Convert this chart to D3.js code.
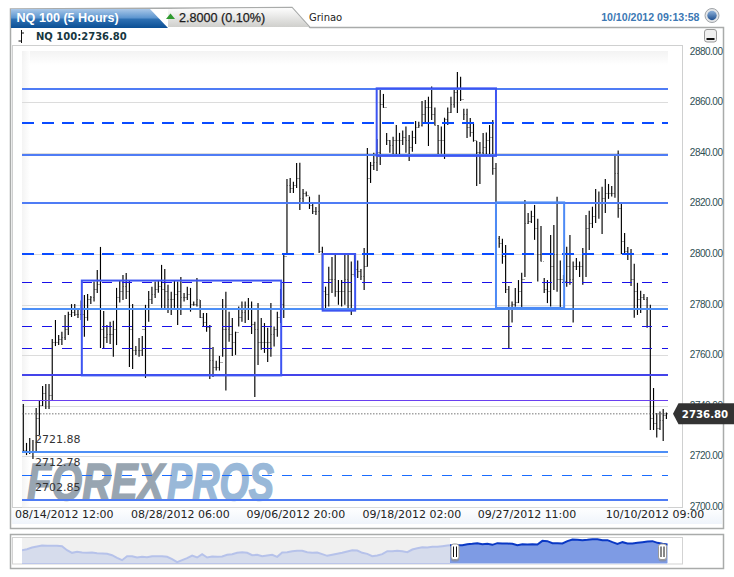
<!DOCTYPE html>
<html>
<head>
<meta charset="utf-8">
<title>NQ 100 (5 Hours)</title>
<script src="https://cdn.jsdelivr.net/npm/d3@7"></script>
<style>
  html, body { margin: 0; padding: 0; background: #fff; }
  svg { display: block; }
  text { font-family: "DejaVu Sans", sans-serif; }
  .arial { font-family: "Liberation Sans", Arial, sans-serif; }
</style>
</head>
<body>
<div id="chart"></div>
<script>
// 5 hour bars
const highs = [2740.7,2725.3,2727.2,2726.5,2739.1,2741.9,2747.8,2748.6,2748.6,2766.4,
  2773.9,2768.0,2769.3,2775.9,2777.2,2780.2,2780.2,2778.3,2781.6,2783.8,
  2784.2,2783.4,2789.1,2793.7,2802.8,2777.5,2771.9,2773.2,2773.6,2786.6,
  2789.7,2791.7,2792.5,2789.7,2780.2,2763.6,2766.8,2767.6,2779.9,2785.4,
  2787.1,2789.1,2789.7,2795.7,2794.1,2787.8,2785.1,2789.5,2789.1,2790.9,
  2784.6,2787.1,2786.6,2781.2,2790.5,2781.8,2776.7,2776.7,2771.9,2763.2,
  2757.8,2759.7,2782.2,2785.1,2777.2,2774.7,2769.3,2779.2,2781.2,2781.2,
  2782.6,2781.2,2773.2,2780.6,2774.7,2772.7,2770.8,2780.6,2771.3,2777.2,
  2786.2,2799.6,2829.7,2830.1,2828.6,2836.0,2836.1,2825.7,2824.7,2822.7,
  2820.3,2818.6,2823.4,2802.9,2787.1,2795.0,2798.8,2799.6,2789.7,2789.7,
  2800.0,2799.6,2797.0,2800.4,2797.4,2794.1,2802.4,2841.9,2836.4,2840.0,
  2845.5,2865.3,2863.3,2847.9,2845.1,2846.4,2851.0,2847.9,2848.8,2850.4,
  2847.1,2848.7,2852.6,2852.3,2860.5,2860.9,2862.2,2866.2,2857.9,2851.0,
  2850.4,2853.9,2857.9,2862.2,2864.9,2872.0,2870.1,2857.4,2857.4,2853.8,
  2851.8,2844.7,2844.3,2847.9,2848.0,2851.0,2853.0,2836.0,2807.1,2806.0,
  2803.6,2787.4,2781.2,2786.6,2789.7,2792.6,2821.4,2816.2,2817.1,2819.4,
  2813.9,2811.1,2790.5,2789.7,2807.5,2811.5,2822.6,2797.4,2791.7,2802.9,
  2807.5,2797.0,2798.4,2797.0,2802.4,2815.4,2817.1,2818.7,2825.7,2824.7,
  2826.6,2829.7,2827.7,2826.9,2838.9,2840.9,2820.2,2808.3,2802.8,2802.0,
  2796.1,2788.6,2785.5,2784.2,2783.0,2779.9,2747.0,2737.1,2737.7,2738.7,
  2737.3]
const lows = [2721.7,2720.5,2720.9,2718.9,2721.7,2728.4,2739.9,2738.7,2738.7,2742.3,
  2763.6,2764.0,2764.0,2766.0,2768.0,2775.1,2775.5,2774.7,2773.9,2767.3,
  2773.6,2780.2,2781.2,2784.6,2762.8,2762.4,2764.8,2764.4,2759.4,2764.0,
  2780.8,2781.8,2782.2,2755.3,2754.5,2760.1,2759.4,2759.7,2751.0,2773.2,
  2780.2,2782.6,2784.7,2778.7,2777.9,2776.7,2775.9,2778.7,2771.9,2775.9,
  2781.2,2781.8,2777.2,2779.5,2779.2,2774.7,2771.3,2769.3,2750.6,2751.4,
  2753.9,2753.9,2759.4,2746.0,2765.3,2759.7,2760.1,2771.3,2773.2,2772.7,
  2773.9,2768.4,2743.5,2756.1,2762.1,2760.9,2757.3,2759.4,2763.4,2767.3,
  2772.7,2774.7,2799.6,2824.1,2824.1,2826.1,2817.4,2820.2,2822.7,2817.8,
  2815.8,2815.4,2800.4,2777.9,2777.9,2779.2,2784.6,2783.1,2779.9,2779.2,
  2779.9,2777.9,2775.9,2791.0,2790.5,2789.7,2785.8,2795.0,2828.1,2833.2,
  2832.8,2835.2,2857.8,2843.1,2840.0,2839.2,2839.2,2839.2,2843.1,2840.0,
  2836.8,2840.4,2843.5,2849.9,2850.4,2852.2,2842.7,2853.0,2850.8,2839.2,
  2839.6,2837.6,2851.0,2855.8,2857.8,2855.8,2860.5,2853.0,2845.9,2846.4,
  2844.4,2826.9,2827.7,2838.9,2839.2,2839.2,2831.3,2805.6,2802.5,2796.1,
  2784.6,2762.8,2772.9,2779.1,2780.6,2778.8,2790.9,2811.9,2812.3,2805.6,
  2789.1,2797.0,2784.6,2780.6,2779.2,2785.8,2785.1,2778.7,2788.6,2787.1,
  2787.8,2772.9,2793.7,2790.9,2787.8,2790.9,2801.6,2810.3,2812.3,2813.9,
  2807.9,2816.2,2821.8,2822.7,2822.2,2814.3,2800.0,2800.4,2797.6,2787.4,
  2774.8,2775.9,2776.7,2781.8,2770.8,2730.4,2730.4,2727.4,2730.4,2726.1,
  2734.8]
const closes = [2722.5,2722,2722,2722,2735,2740,2745,2742,2744,2765,
  2765,2766,2767,2770,2776,2777,2776,2776,2776,2775,
  2782,2783,2786,2788,2770,2767,2768,2768,2770,2783,
  2785,2787,2785,2770,2762,2762,2762,2770,2778,2782,
  2784,2786,2787,2786,2785,2782,2782,2784,2785,2783,
  2783,2784,2780,2780,2782,2775,2773,2771,2758,2755,
  2755,2757,2770,2770,2768,2765,2769,2775,2777,2778,
  2778,2772,2770,2765,2765,2765,2765,2768,2770,2775,
  2780,2799,2827,2826,2827,2830,2822,2824,2823,2819,
  2817,2817,2801,2785,2784,2790,2790,2785,2785,2785,
  2790,2785,2792,2794,2793,2791,2795,2830,2835,2836,
  2840,2859,2858,2845,2843,2845,2845,2845,2846,2845,
  2842,2846,2850,2851,2855,2858,2858,2855,2851,2845,
  2845,2853,2856,2859,2864,2865,2861,2855,2850,2848,
  2845,2840,2840,2842,2845,2846,2834,2806,2804,2799,
  2786,2778,2780,2781,2785,2790,2812,2813,2815,2810,
  2800,2797,2786,2785,2795,2800,2790,2790,2789,2795,
  2790,2795,2795,2795,2800,2810,2812,2815,2820,2820,
  2822,2824,2824,2824,2832,2818,2805,2801,2800,2790,
  2785,2782,2783,2782,2778,2735,2733,2731,2734,2736,
  2736.8]

const lastPrice = 2736.8
const priceTicks = [2880, 2860, 2840, 2820, 2800, 2780, 2760, 2740, 2720, 2700]
const timeLabels = ['08/14/2012 12:00', '08/28/2012 06:00', '09/06/2012 20:00', '09/18/2012 02:00', '09/27/2012 11:00', '10/10/2012 09:00']
const timeBars = [12.6, 48.7, 84.6, 120.7, 156.5, 196.3]

// drawn levels: price, colour, dash style
const levelPrices = [2865.3, 2851.8, 2839.0, 2820.0, 2800.0, 2789.1, 2778.3, 2771.4, 2762.7, 2752.2, 2742.2, 2721.88, 2712.78, 2702.85]
const levelKinds = ['solid', 'heavy', 'solid', 'solid', 'heavy', 'thin', 'light', 'thin', 'thin', 'deep', 'violet', 'light', 'fine', 'solid']
const fibLabels = ['2721.88', '2712.78', '2702.85']

// boxes: bar from, bar to, price top, price bottom
const boxFrom = [18.2, 93.1, 109.9, 147]
const boxTo = [80.2, 103.2, 147, 168.2]
const boxTop = [2789.5, 2800, 2865.5, 2820.4]
const boxBottom = [2752, 2777.6, 2838.8, 2778.7]
const boxColors = ['#3d55f2', '#3d55f2', '#3d55f2', '#4d8af5']

// overview strip, relative level every few hours
const overview = [40,43,48,51,54,53,53,53,52,40,32,35,33,32,33,31,30,29,25,17,10,22,22,18,20,19,22,22,22,20,
  13,4,10,16,24,18,28,18,21,20,21,26,28,32,34,32,25,26,22,24,26,20,33,34,37,38,38,34,32,33,
  28,23,26,29,32,36,40,39,32,29,22,24,28,37,37,38,37,34,42,46,49,48,50,50,52,54,55,55,55,58,
  59,61,58,59,56,61,60,60,59,55,58,57,58,57,68,67,61,61,60,67,72,71,70,71,73,73,70,70,64,59,
  64,60,60,62,64,66,67,62,59,57]

const width = 734, height = 577
const svg = d3.select('#chart').append('svg').attr('width', width).attr('height', height)
const defs = svg.append('defs')

function gradient(id, stops, horizontal) {
  const g = defs.append('linearGradient').attr('id', id)
    .attr('x1', 0).attr('y1', 0).attr('x2', horizontal ? 1 : 0).attr('y2', horizontal ? 0 : 1)
  stops.forEach(s => g.append('stop').attr('offset', s[0]).attr('stop-color', s[1]))
}
gradient('tabBlue', [[0, '#a9c7e8'], [0.45, '#5f97d0'], [0.55, '#2d6fb2'], [1, '#0b4f94']])
gradient('tabGrey', [[0, '#fdfdfd'], [1, '#cfcfcc']])
gradient('topFade', [[0, '#f3f3f3'], [1, '#ffffff']])
gradient('leftFade', [[0, '#f1f1f1'], [1, '#ffffff']], true)
gradient('band', [[0, '#ffffff'], [1, '#eff4fb']])
gradient('globe', [[0, '#8fb2da'], [1, '#1e4f8f']])

// frames
const frame = svg.append('g')
const panelPath = 'M10.5,9 L292,7.5 L310,27.5 L723.5,27.5 L723.5,528.5 L10.5,528.5 Z'
frame.append('path').attr('d', panelPath).attr('fill', '#fff').attr('stroke', '#a9abaa').attr('stroke-width', 1.5)
frame.append('rect').attr('x', 12).attr('y', 507).attr('width', 710).attr('height', 17).attr('fill', 'url(#band)')
frame.append('rect').attr('x', 12.5).attr('y', 45.5).attr('width', 670).attr('height', 462)
  .attr('fill', '#fff').attr('stroke', '#cfd0d0')
frame.append('rect').attr('x', 13).attr('y', 46).attr('width', 9).attr('height', 461).attr('fill', '#fff')

// tabs
svg.append('path').attr('d', 'M168,9 L292,8 L309,27 L168,27 Z').attr('fill', 'url(#tabGrey)')
svg.append('path').attr('d', 'M11,9 L150,9 L168,28 L11,28 Z').attr('fill', 'url(#tabBlue)')
svg.append('text').attr('class', 'arial').attr('x', 16.5).attr('y', 22).attr('font-size', 12.6)
  .attr('font-weight', 'bold').attr('fill', '#fff').text('NQ 100 (5 Hours)')
svg.append('path').attr('d', 'M166,19 L170.5,13.5 L175,19 Z').attr('fill', '#2f9a2f')
svg.append('text').attr('class', 'arial').attr('x', 179).attr('y', 22).attr('font-size', 12.6)
  .attr('fill', '#1c1c1c').attr('stroke', '#1c1c1c').attr('stroke-width', 0.25).text('2.8000 (0.10%)')
svg.append('text').attr('x', 309).attr('y', 21).attr('font-size', 10).attr('fill', '#222').text('Grinao')
svg.append('text').attr('class', 'arial').attr('x', 699.5).attr('y', 21).attr('text-anchor', 'end')
  .attr('font-size', 10.6).attr('font-weight', 'bold').attr('fill', '#3c78b4').text('10/10/2012 09:13:58')
svg.append('circle').attr('cx', 712).attr('cy', 15.5).attr('r', 7).attr('fill', '#e4e6e8').attr('stroke', '#a0a4a8')
svg.append('circle').attr('cx', 712).attr('cy', 15.5).attr('r', 4.7).attr('fill', 'url(#globe)')

// legend row and minimise button
svg.append('path').attr('d', 'M21.5,30 V43 M21.5,33 H24 M21.5,41 H18.5').attr('stroke', '#111').attr('fill', 'none')
svg.append('text').attr('x', 36).attr('y', 40).attr('font-size', 10).attr('font-weight', 'bold')
  .attr('fill', '#17373f').text('NQ 100:2736.80')
svg.append('rect').attr('x', 704.5).attr('y', 29.5).attr('width', 12).attr('height', 12.5).attr('rx', 2.5)
  .attr('fill', '#f0f0f0').attr('stroke', '#9a9a9a')
svg.append('rect').attr('x', 706.5).attr('y', 38).attr('width', 8).attr('height', 2).attr('fill', '#111')

// scales
const x = d3.scaleLinear().domain([0, highs.length - 1]).range([23.3, 666.4])
const y = d3.scaleLinear().domain([2700, 2880]).range([506.9, 51.7])
const plotLeft = 22, plotRight = 668

// plot background
const plot = svg.append('g')
plot.append('rect').attr('x', plotLeft).attr('y', 51).attr('width', plotRight - plotLeft).attr('height', 14).attr('fill', 'url(#topFade)')
plot.append('rect').attr('x', plotLeft).attr('y', 51).attr('width', 8).attr('height', 456).attr('fill', 'url(#leftFade)').attr('opacity', 0.8)

// logo goes under everything else
const logo = plot.append('g').attr('class', 'arial').attr('font-style', 'italic').attr('font-weight', 'bold')
  .attr('font-size', 52).attr('stroke-width', 1.6)
logo.append('text').attr('class', 'arial').attr('x', 27).attr('y', 500).attr('textLength', 137).attr('lengthAdjust', 'spacingAndGlyphs')
  .attr('fill', '#98a5b1').attr('stroke', '#98a5b1').text('FOREX')
logo.append('text').attr('class', 'arial').attr('x', 167).attr('y', 500).attr('textLength', 107).attr('lengthAdjust', 'spacingAndGlyphs')
  .attr('fill', '#99b8d8').attr('stroke', '#99b8d8').text('PROS')

// grid lines
plot.append('g').selectAll('line').data(priceTicks.slice(1)).enter().append('line')
  .attr('x1', plotLeft).attr('x2', plotRight)
  .attr('y1', d => Math.round(y(d)) + 0.5).attr('y2', d => Math.round(y(d)) + 0.5)
  .attr('stroke', '#dcdcdc')

// ohlc bars
const bars = plot.append('g').selectAll('g').data(highs).enter().append('g')
bars.append('line')
  .attr('x1', (d, i) => x(i) - 1.5).attr('x2', (d, i) => x(i))
  .attr('y1', (d, i) => y(i ? closes[i - 1] : lows[i]) ).attr('y2', (d, i) => y(i ? closes[i - 1] : lows[i]))
  .attr('stroke', '#aaa').attr('shape-rendering', 'crispEdges')
bars.append('line')
  .attr('x1', (d, i) => x(i)).attr('x2', (d, i) => x(i) + 1.5)
  .attr('y1', (d, i) => y(closes[i])).attr('y2', (d, i) => y(closes[i]))
  .attr('stroke', '#aaa').attr('shape-rendering', 'crispEdges')
bars.append('line')
  .attr('x1', (d, i) => x(i)).attr('x2', (d, i) => x(i))
  .attr('y1', d => y(d)).attr('y2', (d, i) => y(lows[i]))
  .attr('stroke', '#000').attr('stroke-width', 1.15)

// level lines
const levelStyle = {
  solid: { color: '#4f7cf5', w: 2, dash: null },
  light: { color: '#4d8ff7', w: 2, dash: null },
  deep: { color: '#4444ea', w: 2, dash: null },
  heavy: { color: '#0a4bff', w: 2, dash: '12,8' },
  thin: { color: '#1a10e8', w: 1, dash: '10,10' },
  fine: { color: '#1a6cff', w: 1, dash: '10,10' },
  violet: { color: '#6a40f0', w: 1, dash: null }
}
plot.append('g').selectAll('line').data(levelPrices).enter().append('line')
  .attr('x1', plotLeft).attr('x2', plotRight)
  .attr('y1', d => Math.round(y(d))).attr('y2', d => Math.round(y(d)))
  .attr('stroke', (d, i) => levelStyle[levelKinds[i]].color)
  .attr('stroke-width', (d, i) => levelStyle[levelKinds[i]].w)
  .attr('stroke-dasharray', (d, i) => levelStyle[levelKinds[i]].dash)
  .attr('shape-rendering', 'crispEdges')

// last price dotted line
plot.append('line').attr('x1', plotLeft).attr('x2', plotRight)
  .attr('y1', y(lastPrice)).attr('y2', y(lastPrice))
  .attr('stroke', '#777').attr('stroke-dasharray', '1.5,1.5')

// boxes
plot.append('g').selectAll('rect').data(boxFrom).enter().append('rect')
  .attr('x', d => x(d)).attr('width', (d, i) => x(boxTo[i]) - x(d))
  .attr('y', (d, i) => y(boxTop[i])).attr('height', (d, i) => y(boxBottom[i]) - y(boxTop[i]))
  .attr('fill', 'none').attr('stroke', (d, i) => boxColors[i]).attr('stroke-width', 2)

// fibonacci price labels
plot.append('g').selectAll('text').data(fibLabels).enter().append('text')
  .attr('x', 35).attr('y', (d, i) => y(levelPrices[11 + i]) - 8.5)
  .attr('font-size', 11).attr('fill', '#333').text(d => d)

// axes
const yAxis = svg.append('g').attr('transform', 'translate(722.5,-0.7)')
  .call(d3.axisLeft(y).tickValues(priceTicks).tickSize(0).tickPadding(0).tickFormat(d3.format('.2f')))
yAxis.select('.domain').remove()
yAxis.selectAll('text').attr('class', 'arial').attr('font-size', 10).attr('letter-spacing', -0.5).attr('fill', '#2f4f55')

const xAxis = svg.append('g').attr('transform', 'translate(0,507)')
  .call(d3.axisBottom(x).tickValues(timeBars).tickSize(0).tickPadding(3).tickFormat((d, i) => timeLabels[i]))
xAxis.select('.domain').remove()
xAxis.selectAll('text').attr('font-size', 11).attr('fill', '#222')

// last price tag
const tag = svg.append('g').attr('transform', 'translate(0,' + y(lastPrice) + ')')
tag.append('path').attr('d', 'M673,0 L678.5,-10.5 L734,-10.5 L734,10.5 L678.5,10.5 Z').attr('fill', '#333')
tag.append('text').attr('x', 705).attr('y', 0).attr('dy', '0.36em').attr('text-anchor', 'middle')
  .attr('font-size', 10.2).attr('font-weight', 'bold').attr('fill', '#fff').text(d3.format('.2f')(lastPrice))

// overview strip
const nav = svg.append('g')
nav.append('rect').attr('x', 10.5).attr('y', 534.5).attr('width', 713).attr('height', 34).attr('fill', '#fff').attr('stroke', '#a9abaa').attr('stroke-width', 1.5)
nav.append('rect').attr('x', 12.5).attr('y', 537.5).attr('width', 670).attr('height', 26.5).attr('fill', '#fff').attr('stroke', '#d3d3d3')
nav.append('rect').attr('x', 22).attr('y', 538).attr('width', 646).attr('height', 26).attr('fill', '#f0f0f0')

const navX = d3.scaleLinear().domain([0, overview.length - 1]).range([22, 667.5])
const navY = d3.scaleLinear().domain([0, 78]).range([563.5, 537.5])
const navArea = d3.area().x((d, i) => navX(i)).y0(navY(0)).y1(d => navY(d))
const navLine = d3.line().x((d, i) => navX(i)).y(d => navY(d))

defs.append('clipPath').attr('id', 'navOut').append('rect').attr('x', 22).attr('y', 530).attr('width', 428).attr('height', 40)
defs.append('clipPath').attr('id', 'navIn').append('rect').attr('x', 450).attr('y', 530).attr('width', 218).attr('height', 40)

const navOut = nav.append('g').attr('clip-path', 'url(#navOut)')
navOut.append('path').attr('d', navArea(overview)).attr('fill', '#d6dcec')
navOut.append('path').attr('d', navLine(overview)).attr('fill', 'none').attr('stroke', '#b6c2ea').attr('stroke-width', 2)
const navIn = nav.append('g').attr('clip-path', 'url(#navIn)')
navIn.append('rect').attr('x', 450).attr('y', 538).attr('width', 218).attr('height', 26).attr('fill', '#fff')
navIn.append('path').attr('d', navArea(overview)).attr('fill', '#7e9be4')
navIn.append('path').attr('d', navLine(overview)).attr('fill', 'none').attr('stroke', '#0a38c4').attr('stroke-width', 2)
nav.append('line').attr('x1', 22).attr('x2', 450).attr('y1', 563.5).attr('y2', 563.5).attr('stroke', '#bcc6ea')

// range handles
const handles = nav.selectAll('.handle').data([455, 662.5]).enter().append('g').attr('class', 'handle')
  .attr('transform', d => 'translate(' + d + ',552.5)')
handles.append('rect').attr('x', -4).attr('y', -7).attr('width', 8).attr('height', 16).attr('rx', 2.5).attr('fill', '#8a8a8a').attr('opacity', 0.6)
handles.append('rect').attr('x', -4).attr('y', -8.5).attr('width', 8).attr('height', 15.5).attr('rx', 2.5).attr('fill', '#fff').attr('stroke', '#999')
handles.append('path').attr('d', 'M-1.5,-6 V4.5 M1.5,-6 V4.5').attr('stroke', '#111').attr('stroke-width', 1)
</script>
</body>
</html>
